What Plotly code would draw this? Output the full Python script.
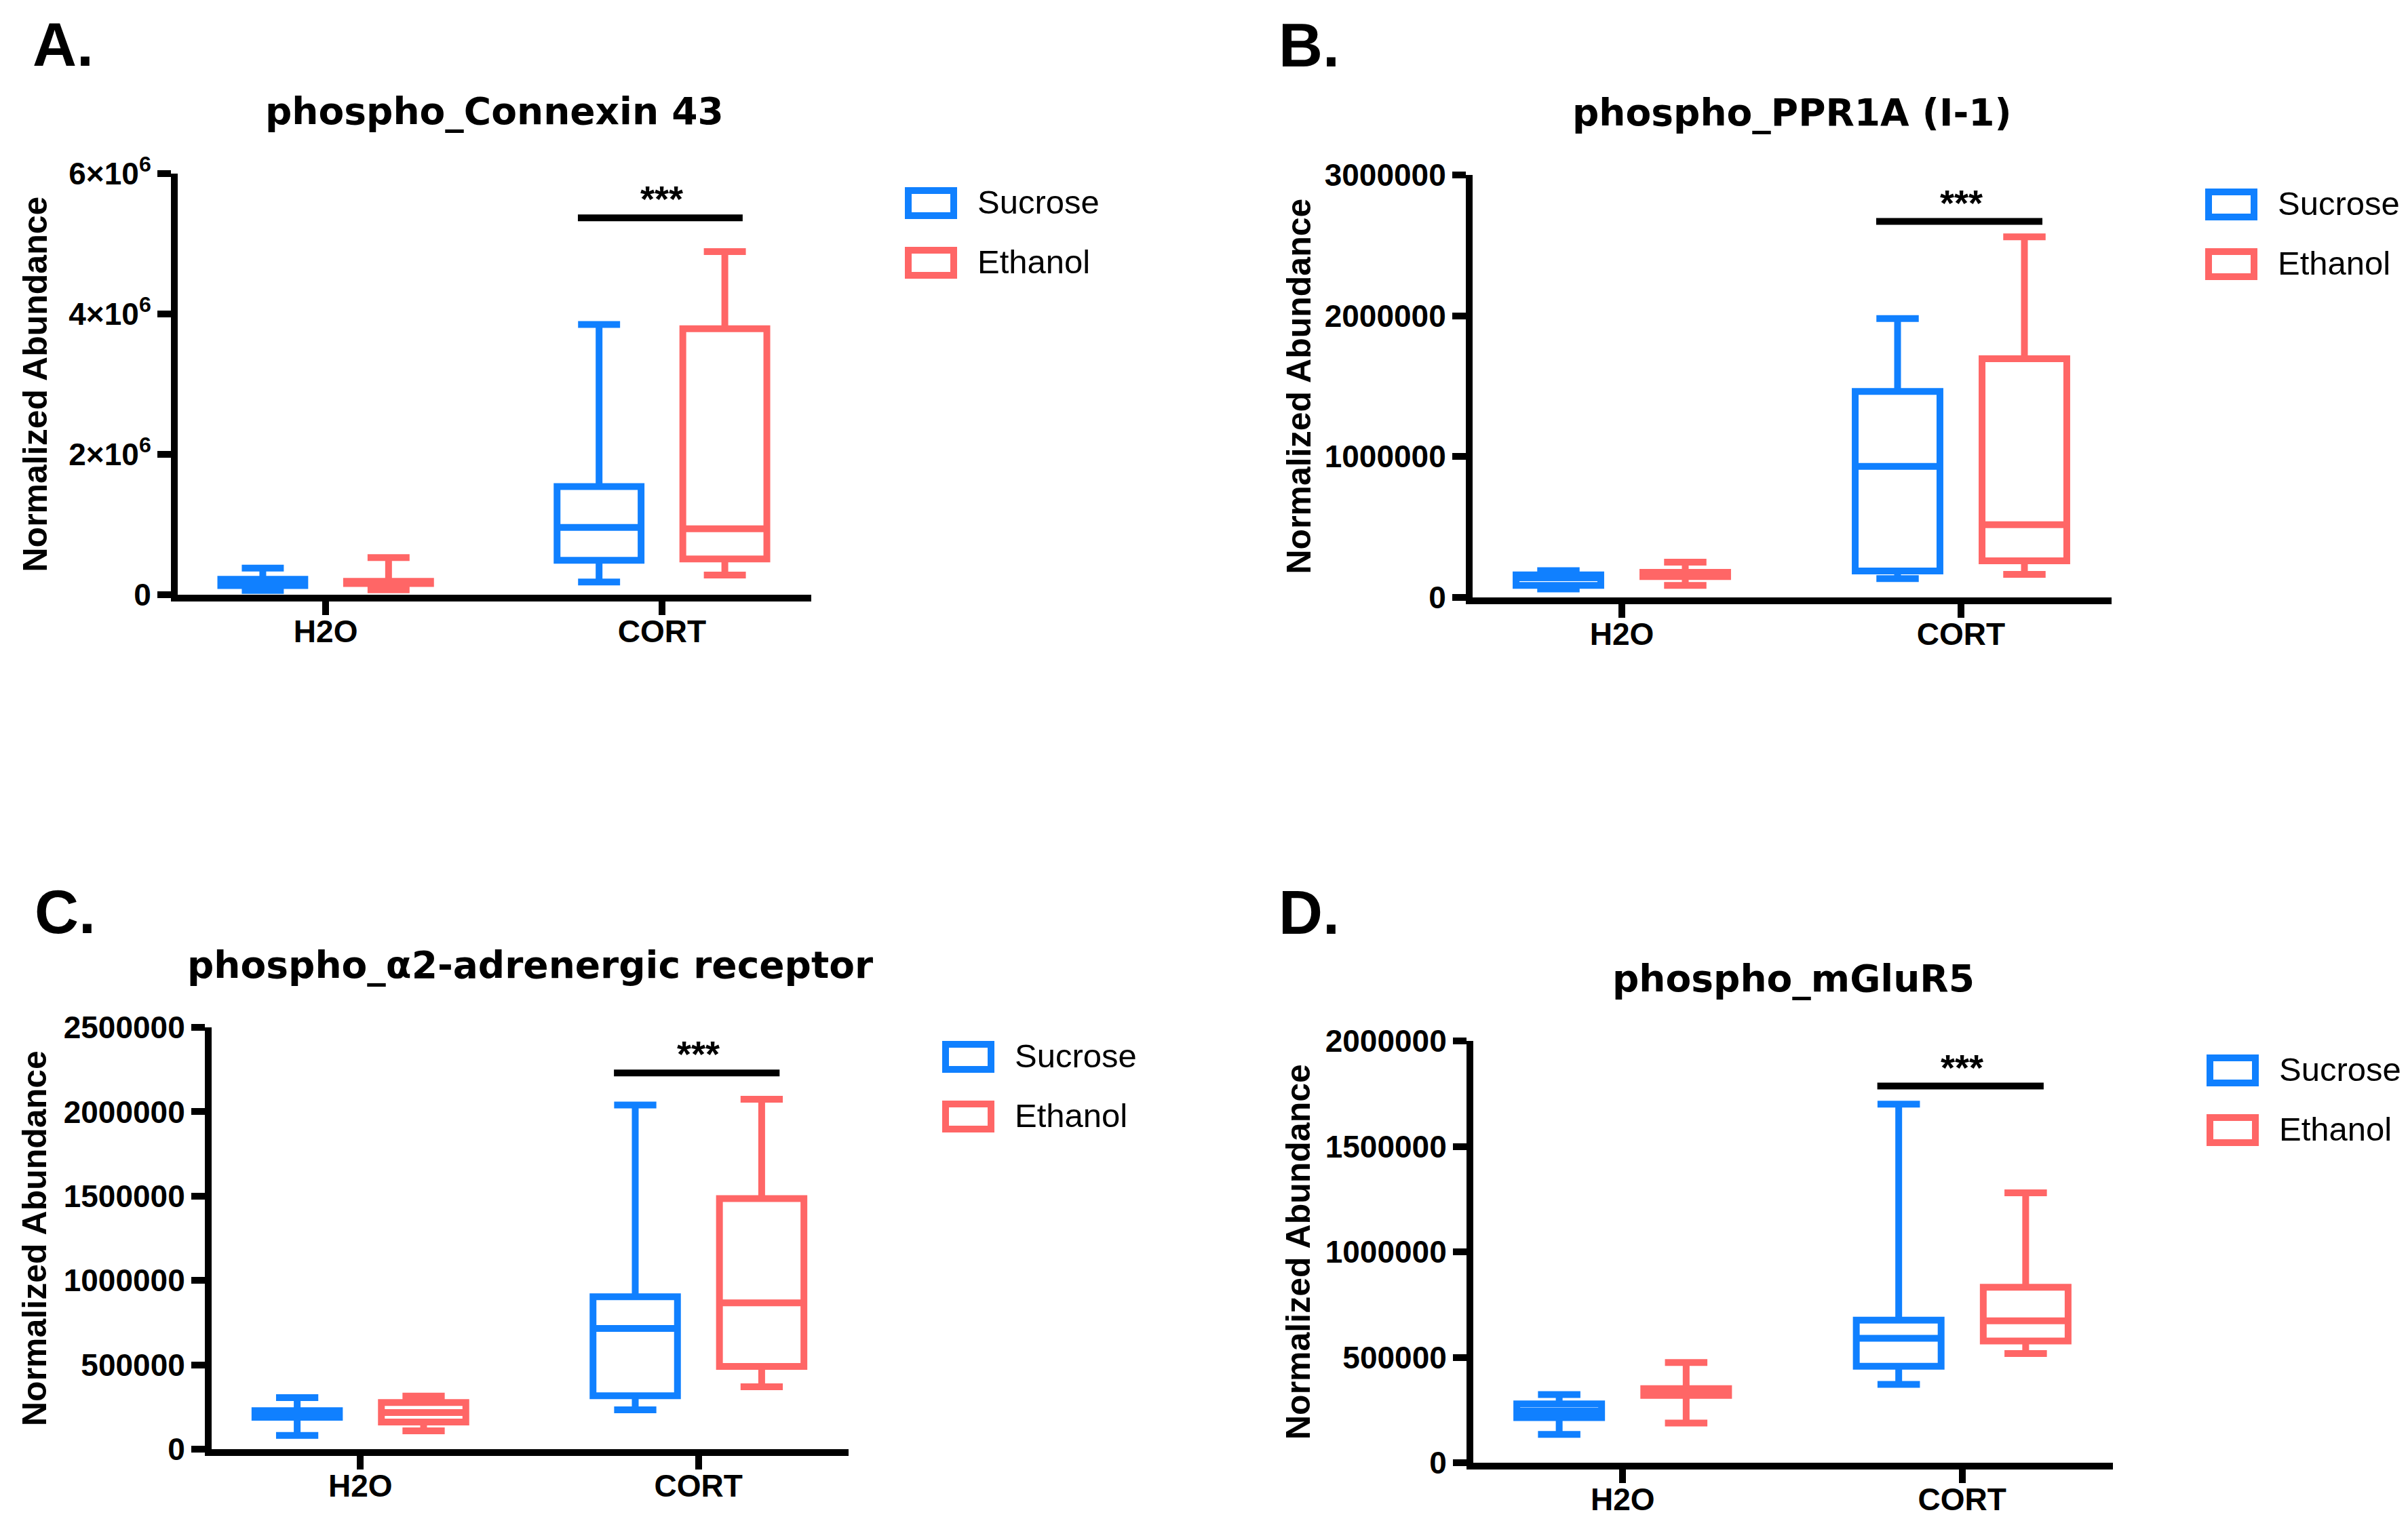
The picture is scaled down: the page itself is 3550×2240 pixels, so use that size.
import plotly.graph_objects as go

W, H = 3550, 2240
PAGE_OFFSET = 8  # browser default body margin, compensated in px conversion

# ---------------- data ----------------
CATS = ["H2O", "CORT"]
GROUPS = ["Sucrose", "Ethanol"]

# five-number summaries per category: [min, q1, median, q3, max]
A_SUCROSE = [[0.06e6, 0.13e6, 0.17e6, 0.22e6, 0.38e6], [0.18e6, 0.49e6, 0.96e6, 1.54e6, 3.85e6]]
A_ETHANOL = [[0.07e6, 0.16e6, 0.175e6, 0.19e6, 0.53e6], [0.28e6, 0.51e6, 0.94e6, 3.79e6, 4.89e6]]

B_SUCROSE = [[0.06e6, 0.085e6, 0.14e6, 0.16e6, 0.19e6], [0.134e6, 0.188e6, 0.93e6, 1.463e6, 1.98e6]]
B_ETHANOL = [[0.085e6, 0.148e6, 0.163e6, 0.178e6, 0.25e6], [0.164e6, 0.26e6, 0.516e6, 1.695e6, 2.56e6]]

C_SUCROSE = [[0.081e6, 0.189e6, 0.21e6, 0.228e6, 0.305e6], [0.233e6, 0.317e6, 0.715e6, 0.903e6, 2.04e6]]
C_ETHANOL = [[0.109e6, 0.161e6, 0.217e6, 0.276e6, 0.315e6], [0.37e6, 0.49e6, 0.867e6, 1.485e6, 2.074e6]]

D_SUCROSE = [[0.134e6, 0.214e6, 0.245e6, 0.279e6, 0.323e6], [0.371e6, 0.457e6, 0.59e6, 0.676e6, 1.70e6]]
D_ETHANOL = [[0.188e6, 0.319e6, 0.335e6, 0.351e6, 0.475e6], [0.518e6, 0.577e6, 0.673e6, 0.832e6, 1.28e6]]

TITLES = ["phospho_Connexin 43", "phospho_PPR1A (I-1)",
          "phospho_\u03b12-adrenergic receptor", "phospho_mGluR5"]
LETTERS = ["A.", "B.", "C.", "D."]
Y_LABEL = "Normalized Abundance"

A_TICKS = [0, 2e6, 4e6, 6e6]
A_TICKTEXT = ["0", "2\u00d710<sup>6</sup>", "4\u00d710<sup>6</sup>", "6\u00d710<sup>6</sup>"]
B_TICKS = [0, 1000000, 2000000, 3000000]
C_TICKS = [0, 500000, 1000000, 1500000, 2000000, 2500000]
D_TICKS = [0, 500000, 1000000, 1500000, 2000000]

SIG_Y = [5.37e6, 2.67e6, 2.23e6, 1.786e6]   # height of significance bar
SIG_TEXT = "***"

# ---------------- style ----------------
COLORS = {"Sucrose": "#1080FF", "Ethanol": "#FF6666"}
LW = 10
ARIAL = "Liberation Sans, Arial, sans-serif"
TITLE_FONT = "DejaVu Sans, sans-serif"

# pixel frame of each panel's plot area (left, right, top, bottom)
FRAMES = [
    dict(l=262, r=1196, t=256, b=877, letter=(46, 66), ytitle=51),
    dict(l=2171, r=3113, t=258, b=881, letter=(1883, 67), ytitle=1914),
    dict(l=312, r=1251, t=1515, b=2137, letter=(49, 1345), ytitle=51),
    dict(l=2172, r=3115, t=1535, b=2157, letter=(1883, 1346), ytitle=1914),
]
X_RANGE = [-0.44, 1.444]

panels = [
    dict(suc=A_SUCROSE, eth=A_ETHANOL, ymax=6e6, tickvals=A_TICKS, ticktext=A_TICKTEXT),
    dict(suc=B_SUCROSE, eth=B_ETHANOL, ymax=3e6, tickvals=B_TICKS, ticktext=[str(v) for v in B_TICKS]),
    dict(suc=C_SUCROSE, eth=C_ETHANOL, ymax=2.5e6, tickvals=C_TICKS, ticktext=[str(v) for v in C_TICKS]),
    dict(suc=D_SUCROSE, eth=D_ETHANOL, ymax=2e6, tickvals=D_TICKS, ticktext=[str(v) for v in D_TICKS]),
]


def px_x(v):
    return (v - PAGE_OFFSET) / W


def px_y(v):
    return 1 - (v - PAGE_OFFSET) / H


fig = go.Figure()
layout = dict(
    width=W, height=H, autosize=False,
    margin=dict(l=0, r=0, t=0, b=0, pad=0, autoexpand=False),
    paper_bgcolor="white", plot_bgcolor="white",
    boxmode="group", boxgap=0.252, boxgroupgap=0.332,
    showlegend=False,
    font=dict(family=ARIAL, color="black"),
)
annotations = []
shapes = []

for i, (p, f) in enumerate(zip(panels, FRAMES)):
    suffix = "" if i == 0 else str(i + 1)
    xa, ya = "x" + suffix, "y" + suffix
    for g, data in zip(GROUPS, [p["suc"], p["eth"]]):
        fig.add_trace(go.Box(
            x=CATS,
            lowerfence=[d[0] for d in data],
            q1=[d[1] for d in data],
            median=[d[2] for d in data],
            q3=[d[3] for d in data],
            upperfence=[d[4] for d in data],
            name=g, orientation="v", boxpoints=False,
            offsetgroup=g, alignmentgroup="panel%d" % i,
            line=dict(color=COLORS[g], width=LW),
            fillcolor="white", whiskerwidth=0.5,
            xaxis=xa, yaxis=ya, hoverinfo="skip", showlegend=False,
        ))

    layout["xaxis" + suffix] = dict(
        domain=[px_x(f["l"]), px_x(f["r"])], anchor=ya, automargin=False,
        type="category", categoryorder="array", categoryarray=CATS,
        range=X_RANGE, showline=True, linewidth=LW, linecolor="black",
        ticks="outside", ticklen=20, tickwidth=LW, tickcolor="black",
        ticklabelstandoff=-15,
        tickfont=dict(family=ARIAL, size=46, color="black", weight="bold"),
        showgrid=False, zeroline=False, fixedrange=True,
    )
    layout["yaxis" + suffix] = dict(
        domain=[px_y(f["b"]), px_y(f["t"])], anchor=xa, automargin=False,
        range=[0, p["ymax"]], tickvals=p["tickvals"], ticktext=p["ticktext"],
        showline=True, linewidth=LW, linecolor="black",
        ticks="outside", ticklen=20, tickwidth=LW, tickcolor="black",
        tickfont=dict(family=ARIAL, size=46, color="black", weight="bold"),
        showgrid=False, zeroline=False, fixedrange=True,
    )

    # panel letter
    annotations.append(dict(
        text=LETTERS[i], xref="paper", yref="paper",
        x=px_x(f["letter"][0]), y=px_y(f["letter"][1]),
        xanchor="left", yanchor="middle", showarrow=False,
        font=dict(family=ARIAL, size=90, color="black", weight="bold"),
    ))
    # panel title
    annotations.append(dict(
        text=TITLES[i], xref="paper", yref="paper",
        x=px_x((f["l"] + f["r"]) / 2), y=px_y(f["t"] - 92),
        xanchor="center", yanchor="middle", showarrow=False,
        font=dict(family=TITLE_FONT, size=55, color="black", weight="bold"),
    ))
    # y axis title
    annotations.append(dict(
        text=Y_LABEL, xref="paper", yref="paper", textangle=-90,
        x=px_x(f["ytitle"]), y=px_y((f["t"] + f["b"]) / 2),
        xanchor="center", yanchor="middle", showarrow=False,
        font=dict(family=ARIAL, size=50, color="black", weight="bold"),
    ))
    # legend (drawn)
    lx0 = f["r"] + 143
    for k, g in enumerate(GROUPS):
        ty = f["t"] + 25 + k * 88
        shapes.append(dict(
            type="rect", xref="paper", yref="paper",
            x0=px_x(lx0), x1=px_x(lx0 + 67), y0=px_y(ty), y1=px_y(ty + 37),
            line=dict(color=COLORS[g], width=LW), fillcolor="white",
        ))
        annotations.append(dict(
            text=g, xref="paper", yref="paper",
            x=px_x(lx0 + 100), y=px_y(ty + 17),
            xanchor="left", yanchor="middle", showarrow=False,
            font=dict(family=ARIAL, size=49, color="black"),
        ))
    # significance bar over CORT
    ci = CATS.index("CORT")
    shapes.append(dict(
        type="line", xref=xa, yref=ya,
        x0=ci - 0.25, x1=ci + 0.24, y0=SIG_Y[i], y1=SIG_Y[i],
        line=dict(color="black", width=LW),
    ))
    annotations.append(dict(
        text=SIG_TEXT, xref=xa, yref=ya, x=ci, y=SIG_Y[i], yshift=28,
        xanchor="center", yanchor="middle", showarrow=False,
        font=dict(family=ARIAL, size=54, color="black", weight="bold"),
    ))

layout["annotations"] = annotations
layout["shapes"] = shapes
fig.update_layout(**layout)
fig.write_html("out.html")
